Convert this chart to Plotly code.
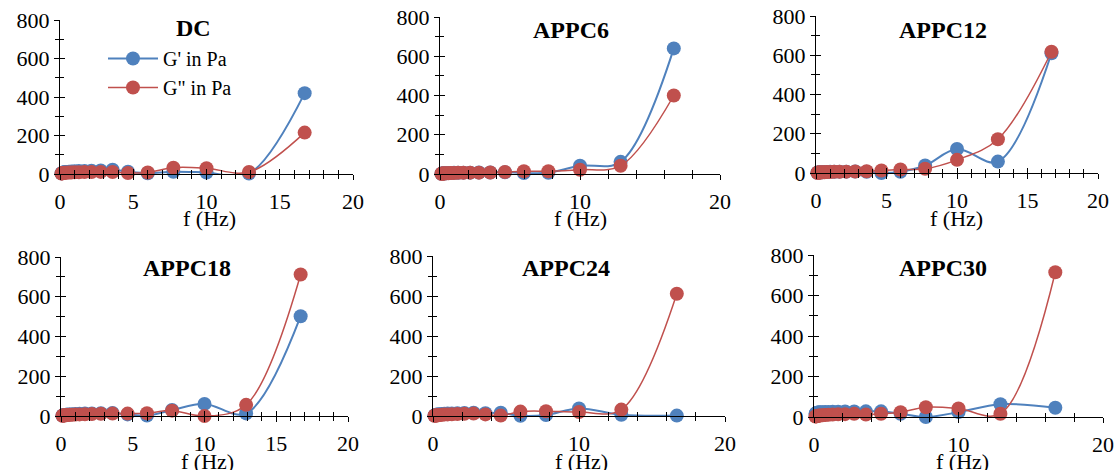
import plotly.graph_objects as go

freq = [0.1, 0.13, 0.17, 0.22, 0.28, 0.36, 0.46, 0.6, 0.77, 1.0, 1.29, 1.67,
        2.15, 2.78, 3.59, 4.64, 5.99, 7.74, 10.0, 12.9, 16.7]

titles = ["DC", "APPC6", "APPC12", "APPC18", "APPC24", "APPC30"]

dc_g1 = [3, 5, 6, 8, 9, 10, 11, 12, 13, 14, 15, 16, 17, 18, 22, 12, 4, 12, 8, 2, 420]
dc_g2 = [2, 3, 4, 5, 6, 7, 7, 8, 8, 9, 9, 10, 10, 11, 10, 5, 8, 33, 30, 10, 215]
a6_g1 = [1, 2, 2, 3, 3, 4, 4, 5, 5, 6, 6, 7, 7, 8, 8, 9, 5, 6, 42, 62, 640]
a6_g2 = [1, 1, 2, 2, 3, 3, 4, 4, 5, 5, 6, 6, 7, 7, 8, 10, 14, 14, 22, 42, 400]
a12_g1 = [1, 2, 2, 3, 3, 4, 4, 5, 5, 6, 6, 7, 7, 8, 6, 0, 6, 38, 122, 58, 610]
a12_g2 = [1, 1, 2, 2, 3, 3, 4, 4, 5, 5, 6, 6, 7, 8, 9, 13, 18, 22, 67, 172, 618]
a18_g1 = [2, 3, 4, 5, 5, 6, 7, 8, 9, 10, 11, 12, 13, 14, 15, 8, 2, 30, 61, 13, 502]
a18_g2 = [1, 2, 2, 3, 4, 4, 5, 6, 6, 7, 8, 9, 10, 11, 12, 12, 14, 27, 0, 56, 712]
a24_g1 = [2, 3, 5, 6, 7, 8, 9, 10, 11, 12, 13, 14, 15, 16, 14, 16, 1, 5, 38, 6, 2]
a24_g2 = [1, 2, 2, 3, 3, 4, 5, 6, 7, 8, 9, 10, 11, 12, 8, 2, 22, 24, 20, 32, 611]
a30_g1 = [15, 18, 20, 21, 22, 23, 24, 24, 25, 25, 26, 26, 27, 27, 28, 28, 16, 0, 24, 63, 46]
a30_g2 = [2, 3, 4, 5, 6, 7, 8, 9, 10, 11, 12, 13, 14, 16, 12, 16, 24, 48, 42, 16, 715]

series_g1 = [dc_g1, a6_g1, a12_g1, a18_g1, a24_g1, a30_g1]
series_g2 = [dc_g2, a6_g2, a12_g2, a18_g2, a24_g2, a30_g2]

W, H = 1119, 470
BLUE = "#4F81BD"
RED = "#C0504D"
FONT = "Liberation Serif"

# pixel boxes: (left, right, top, bottom)
boxes = [(60, 353, 20, 174), (440, 720, 17, 174), (816, 1098, 16, 173),
         (61, 348, 257, 416), (433, 725, 256, 416), (814, 1103, 255, 417)]
xdticks = [5, 10, 5, 5, 10, 10]
xminor = [1, 2, 1, 1, 2, 2]
title_pos = [(193, 28), (571, 30), (943, 30), (187, 268), (566, 268), (943, 268)]
xlab_pos = [(209, 219), (580, 219), (956, 219), (207, 461), (581, 461), (962, 461)]

fig = go.Figure()
for i in range(6):
    ax = "" if i == 0 else str(i + 1)
    fig.add_trace(go.Scatter(
        x=freq, y=series_g1[i], mode="lines+markers", name="G' in Pa",
        line=dict(color=BLUE, width=2, shape="spline"),
        marker=dict(color=BLUE, size=14), cliponaxis=False,
        xaxis="x" + ax, yaxis="y" + ax, showlegend=(i == 0)))
    fig.add_trace(go.Scatter(
        x=freq, y=series_g2[i], mode="lines+markers", name='G" in Pa',
        line=dict(color=RED, width=1.5, shape="spline"),
        marker=dict(color=RED, size=14), cliponaxis=False,
        xaxis="x" + ax, yaxis="y" + ax, showlegend=(i == 0)))

    l, r, t, b = boxes[i]
    xd = [l / W, r / W]
    yd = [1 - b / H, 1 - t / H]
    fig.layout["xaxis" + ax] = dict(
        domain=xd, anchor="y" + ax, range=[0, 20], dtick=xdticks[i], tick0=0,
        showline=True, linecolor="black", linewidth=1, showgrid=False, zeroline=False,
        ticks="outside", ticklen=5, tickcolor="black", ticklabelstandoff=3,
        minor=dict(dtick=xminor[i], ticks="outside", ticklen=4, tickcolor="black", showgrid=False),
        tickfont=dict(family=FONT, size=22, color="black"), automargin=False)
    fig.layout["yaxis" + ax] = dict(
        domain=yd, anchor="x" + ax, range=[0, 800], dtick=200, tick0=0,
        showline=True, linecolor="black", linewidth=1, showgrid=False, zeroline=False,
        ticks="outside", ticklen=5, tickcolor="black",
        minor=dict(dtick=100, ticks="outside", ticklen=4, tickcolor="black", showgrid=False),
        tickfont=dict(family=FONT, size=22, color="black"), automargin=False)

    # overlay axes giving the inner half of the crossing tick marks
    k = str(i + 7)
    fig.layout["xaxis" + k] = dict(
        overlaying="x" + ax, anchor="y" + ax, range=[0, 20], dtick=xdticks[i], tick0=0,
        showline=False, showgrid=False, zeroline=False, showticklabels=False,
        ticks="inside", ticklen=5, tickcolor="black",
        minor=dict(dtick=xminor[i], ticks="inside", ticklen=4, tickcolor="black", showgrid=False),
        automargin=False)
    fig.layout["yaxis" + k] = dict(
        overlaying="y" + ax, anchor="x" + ax, range=[0, 800], dtick=200, tick0=0,
        showline=False, showgrid=False, zeroline=False, showticklabels=False,
        ticks="inside", ticklen=5, tickcolor="black",
        minor=dict(dtick=100, ticks="inside", ticklen=4, tickcolor="black", showgrid=False),
        automargin=False)
    fig.add_trace(go.Scatter(x=[None], y=[None], mode="markers", showlegend=False,
                             hoverinfo="skip", xaxis="x" + k, yaxis="y" + k))

    tx, ty = title_pos[i]
    fig.add_annotation(x=tx / W, y=1 - ty / H, xref="paper", yref="paper",
                       text="<b>" + titles[i] + "</b>", showarrow=False,
                       xanchor="center", yanchor="middle",
                       font=dict(family=FONT, size=24, color="black"))
    lx, ly = xlab_pos[i]
    fig.add_annotation(x=lx / W, y=1 - ly / H, xref="paper", yref="paper",
                       text="f (Hz)", showarrow=False,
                       xanchor="center", yanchor="middle",
                       font=dict(family=FONT, size=22, color="black"))

fig.update_layout(
    width=W, height=H, margin=dict(l=0, r=0, t=0, b=0, autoexpand=False),
    paper_bgcolor="white", plot_bgcolor="rgba(0,0,0,0)",
    legend=dict(x=103 / W, y=1 - 39 / H, xanchor="left", yanchor="top",
                bgcolor="rgba(0,0,0,0)", font=dict(family=FONT, size=20, color="black"),
                tracegroupgap=0, itemwidth=50),
)

fig.write_html("out.html", config={"displayModeBar": False},
               post_script="document.body.style.margin='0px';")
